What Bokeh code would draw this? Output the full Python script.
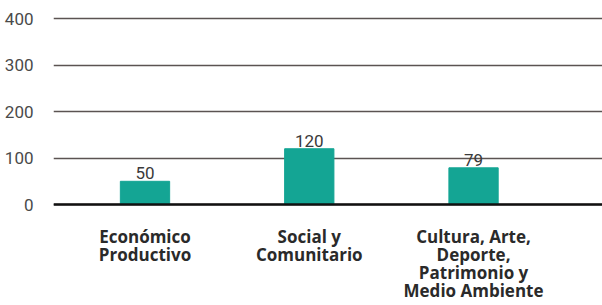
from bokeh.plotting import figure
from bokeh.models import Range1d, FixedTicker, ColumnDataSource, LabelSet, Span
from bokeh.core.properties import value
from bokeh.embed import file_html
from bokeh.resources import INLINE

categories = ["Económico\nProductivo", "Social y\nComunitario", "Cultura, Arte,\nDeporte,\nPatrimonio y\nMedio Ambiente"]
values = [50, 120, 79]
y_ticks = [0, 100, 200, 300, 400]

xs = list(range(len(categories)))
src = ColumnDataSource(dict(x=xs, top=values, label=[str(v) for v in values]))

# category label lines (one row per line, offset downward by line index)
lx, ly, lt, loff = [], [], [], []
for i, c in enumerate(categories):
    for j, line in enumerate(c.split("\n")):
        lx.append(i)
        ly.append(0)
        lt.append(line)
        loff.append(-(32 + 18 * j))
lsrc = ColumnDataSource(dict(x=lx, y=ly, text=lt, yoff=loff))

p = figure(width=602, height=305, output_backend="svg", toolbar_location=None,
           x_range=Range1d(-0.557, 2.785), y_range=Range1d(-217, 410.75),
           min_border_left=53, min_border_right=0, min_border_top=13, min_border_bottom=0)
p.outline_line_color = None
p.background_fill_color = "white"
p.xaxis.visible = False

p.ygrid.grid_line_color = "#5b5352"
p.ygrid.grid_line_width = 1.5
p.xgrid.grid_line_color = None

p.vbar(x="x", top="top", width=0.30, source=src, color="#14a594")

p.add_layout(Span(location=0, dimension="width", line_color="#111111", line_width=2.5))

labels = LabelSet(x="x", y="top", text="label", source=src, text_align="center",
                  text_baseline="bottom", y_offset=2, text_font=value("Roboto"),
                  text_font_size="17px", text_color="#3a3a3a")
p.add_layout(labels)

cat_labels = LabelSet(x="x", y="y", text="text", source=lsrc, y_offset="yoff",
                      text_align="center", text_baseline="middle",
                      text_font=value("Open Sans"), text_font_style="bold",
                      text_font_size="17px", text_color="#2a2a2a")
p.add_layout(cat_labels)

p.yaxis.ticker = FixedTicker(ticks=y_ticks)
p.yaxis.axis_line_color = None
p.yaxis.major_tick_line_color = None
p.yaxis.minor_tick_line_color = None
p.yaxis.major_label_standoff = 14
p.yaxis.major_label_text_font = "Roboto"
p.yaxis.major_label_text_font_size = "17px"
p.yaxis.major_label_text_color = "#4a4a4a"

open("out.html", "w").write(file_html(p, INLINE))
